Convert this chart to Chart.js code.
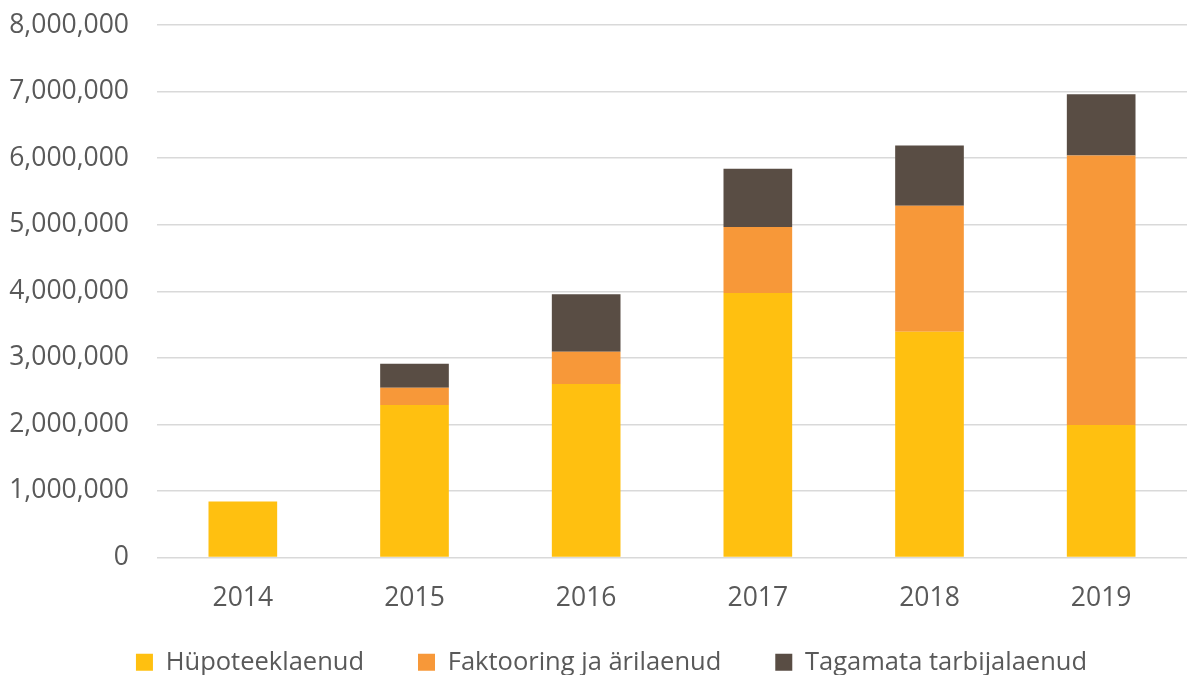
<!DOCTYPE html>
<html>
<head>
<meta charset="utf-8">
<script src="https://cdn.jsdelivr.net/npm/chart.js@4/dist/chart.umd.min.js"></script>
<style>
    html, body { margin: 0; padding: 0; background: #fff; }
    #wrap { width: 1187px; height: 675px; }
</style>
</head>
<body>
<div id="wrap"><canvas id="chart"></canvas></div>
<script>
const years = ['2014', '2015', '2016', '2017', '2018', '2019'];
const hypoteek = [840000, 2290000, 2605000, 3975000, 3390000, 1990000];
const faktooring = [0, 260000, 485000, 990000, 1895000, 4050000];
const tagamata = [0, 360000, 865000, 875000, 905000, 920000];

const textColor = '#595959';
const family = "'Open Sans', 'Noto Sans', sans-serif";
const tickFont = { family: family, size: 26.5 };
const legendFont = { family: family, size: 25.5 };

const ctx = document.getElementById('chart').getContext('2d');
new Chart(ctx, {
    type: 'bar',
    data: {
        labels: years,
        datasets: [
            { label: 'Hüpoteeklaenud', data: hypoteek, backgroundColor: '#FFC010' },
            { label: 'Faktooring ja ärilaenud', data: faktooring, backgroundColor: '#F79839' },
            { label: 'Tagamata tarbijalaenud', data: tagamata, backgroundColor: '#594D44' }
        ]
    },
    options: {
        responsive: true,
        maintainAspectRatio: false,
        animation: false,
        layout: { padding: { top: 25, right: 0, left: 36, bottom: -10 } },
        datasets: {
            bar: { categoryPercentage: 1, barPercentage: 0.4 }
        },
        scales: {
            x: {
                stacked: true,
                grid: { display: false },
                border: { display: false },
                ticks: { color: textColor, font: tickFont, padding: 17 },
                // squeeze the axis box so the legend sits close, without clipping labels
                afterFit: scale => {
                    scale.height = 38;
                    scale._computeLabelArea = () => null;
                }
            },
            y: {
                stacked: true,
                min: 0,
                max: 8000000,
                border: { display: false },
                grid: { color: '#d9d9d9', lineWidth: 1.5, drawTicks: false },
                ticks: {
                    stepSize: 1000000,
                    color: textColor,
                    font: tickFont,
                    padding: 28,
                    callback: v => v.toLocaleString('en-US')
                },
                afterFit: scale => {
                    scale.paddingTop = 0;
                    scale.width = 121;
                    scale._computeLabelArea = () => null;
                }
            }
        },
        plugins: {
            tooltip: { enabled: false },
            legend: {
                position: 'bottom',
                labels: {
                    color: textColor,
                    font: legendFont,
                    boxWidth: 17,
                    boxHeight: 17,
                    padding: 54
                }
            }
        }
    }
});
</script>
</body>
</html>
